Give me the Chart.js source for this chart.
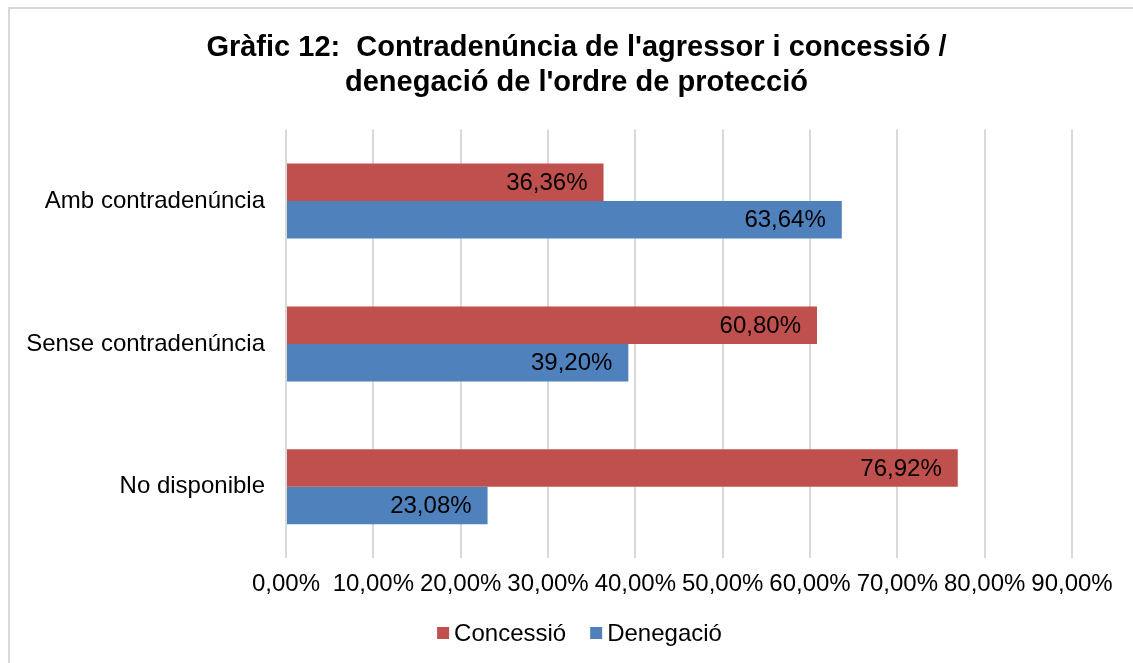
<!DOCTYPE html>
<html>
<head>
<meta charset="utf-8">
<script src="https://cdn.jsdelivr.net/npm/chart.js@4.4.1/dist/chart.umd.min.js"></script>
<style>
  html, body { margin: 0; padding: 0; background: #fff; overflow: hidden; }
  #wrap { position: relative; width: 1133px; height: 663px; }
  #frame { position: absolute; left: 8px; top: 7px; width: 2000px; height: 2000px; border: 2px solid #d9d9d9; box-sizing: border-box; }
  canvas { position: absolute; left: 0; top: 0; }
</style>
</head>
<body>
<div id="wrap">
  <div id="frame"></div>
  <canvas id="chart" width="1133" height="663"></canvas>
</div>
<script>
// -------------------------
// Data
// -------------------------
const CATEGORIES = ["Amb contradenúncia", "Sense contradenúncia", "No disponible"];
const SERIES_NAMES = ["Concessió", "Denegació"];
const CONCESSIO = [36.36, 60.80, 76.92];
const DENEGACIO = [63.64, 39.20, 23.08];
const X_TICKS = [0, 10, 20, 30, 40, 50, 60, 70, 80, 90];
const TITLE_LINES = ["Gràfic 12:  Contradenúncia de l'agressor i concessió /", "denegació de l'ordre de protecció"];

const COLORS = ["#c0504d", "#4f81bd"];
const FONT = "'Liberation Sans', Arial, sans-serif";

// -------------------------
// Helpers
// -------------------------
function pct(v) {
  return v.toFixed(2).replace('.', ',') + '%';
}

// value labels at the inner end of each bar
const barLabels = {
  id: 'barLabels',
  afterDatasetsDraw(chart) {
    const ctx = chart.ctx;
    ctx.save();
    ctx.font = `24px ${FONT}`;
    ctx.fillStyle = '#000';
    ctx.textAlign = 'right';
    ctx.textBaseline = 'middle';
    chart.data.datasets.forEach((ds, i) => {
      chart.getDatasetMeta(i).data.forEach((bar, j) => {
        ctx.fillText(pct(ds.data[j]), bar.x - 16, bar.y + 1);
      });
    });
    ctx.restore();
  }
};

// simple legend, tighter than the built-in one
const bottomLegend = {
  id: 'bottomLegend',
  afterDraw(chart) {
    const ctx = chart.ctx;
    const box = 12, gap = 5, itemGap = 24;
    ctx.save();
    ctx.font = `24px ${FONT}`;
    ctx.textBaseline = 'middle';
    ctx.textAlign = 'left';
    const items = chart.data.datasets.map(ds => ({ text: ds.label, color: ds.backgroundColor, w: ctx.measureText(ds.label).width }));
    const total = items.reduce((s, it) => s + box + gap + it.w, 0) + itemGap * (items.length - 1);
    const cx = (chart.options.layout.padding.left + chart.width - chart.options.layout.padding.right) / 2 + 3;
    let x = cx - total / 2;
    const y = 633;
    items.forEach(it => {
      ctx.fillStyle = it.color;
      ctx.fillRect(x, y - 6, box, box);
      ctx.fillStyle = '#000';
      ctx.fillText(it.text, x + box + gap, y + 1);
      x += box + gap + it.w + itemGap;
    });
    ctx.restore();
  }
};

// y labels are clipped to the scale box; let them use the left margin too
const widenLabelArea = {
  id: 'widenLabelArea',
  afterLayout(chart) {
    chart.scales.y.left = 0;
  }
};

// -------------------------
// Chart
// -------------------------
const LEFT_PAD = 81;

new Chart(document.getElementById('chart'), {
  type: 'bar',
  data: {
    labels: CATEGORIES,
    datasets: [
      { label: SERIES_NAMES[0], data: CONCESSIO, backgroundColor: COLORS[0] },
      { label: SERIES_NAMES[1], data: DENEGACIO, backgroundColor: COLORS[1] }
    ]
  },
  options: {
    indexAxis: 'y',
    responsive: false,
    animation: false,
    categoryPercentage: 0.525,
    barPercentage: 1,
    layout: { padding: { left: LEFT_PAD, right: 61, top: 0, bottom: 52 } },
    plugins: {
      legend: { display: false },
      tooltip: { enabled: false },
      title: {
        display: true,
        text: TITLE_LINES,
        color: '#000',
        font: { family: FONT, size: 29, weight: 'bold', lineHeight: 1.2 },
        padding: { top: 31, bottom: 29 }
      }
    },
    scales: {
      x: {
        min: 0,
        max: 90,
        afterBuildTicks: (axis) => { axis.ticks = X_TICKS.map(v => ({ value: v })); },
        grid: { color: '#d9d9d9', lineWidth: 2, drawTicks: false },
        border: { display: false },
        ticks: {
          color: '#000',
          padding: 12,
          maxRotation: 0,
          minRotation: 0,
          autoSkip: false,
          font: { family: FONT, size: 24 },
          callback: (v) => pct(v)
        }
      },
      y: {
        grid: { display: false, drawTicks: false },
        border: { display: false },
        afterFit: (axis) => { axis.width = 286 - LEFT_PAD; },
        ticks: {
          color: '#000',
          padding: 21,
          font: { family: FONT, size: 24 }
        }
      }
    }
  },
  plugins: [barLabels, bottomLegend, widenLabelArea]
});
</script>
</body>
</html>
